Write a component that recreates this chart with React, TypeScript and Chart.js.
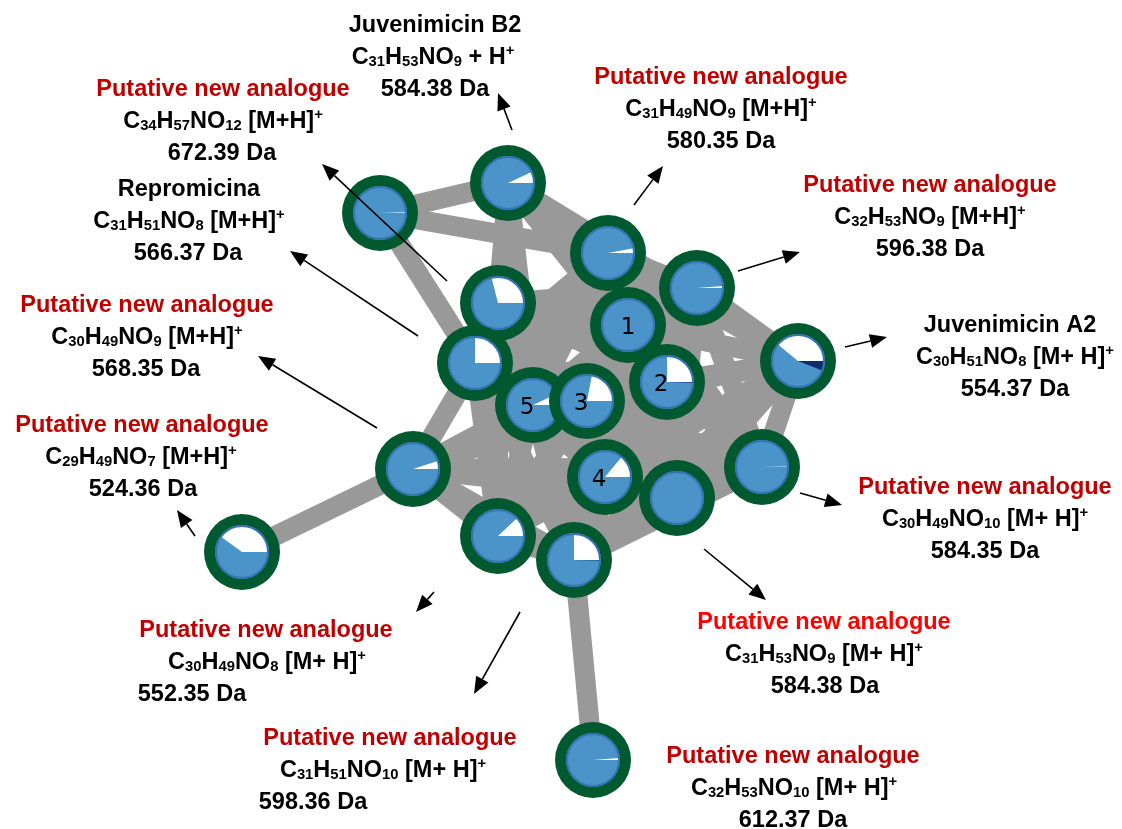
import { useEffect, useRef } from "react";
import { Chart, registerables } from "chart.js";

Chart.register(...registerables);

// Network layout: x / y of every node on a 1122 x 829 board (y grows downward)
const nodeX = [380, 508, 608, 697, 628, 498, 475, 667, 798, 533, 587, 605, 413, 677, 762, 498, 574, 242, 593];
const nodeY = [213, 183, 253, 288, 325, 303, 363, 382, 361, 405, 401, 477, 469, 498, 467, 536, 560, 552, 760];
// Pie share of each node (the rest of the pie is blue)
const nodeWhite = [0.004, 0.07, 0.03, 0.012, 0, 0.29, 0.25, 0.25, 0.39, 0.07, 0.22, 0.14, 0.05, 0, 0.003, 0.12, 0.25, 0.4, 0.012];
const nodeNavy = [0, 0, 0, 0, 0, 0, 0, 0.004, 0.06, 0, 0, 0, 0, 0, 0, 0, 0.003, 0, 0];
const nodeTag = ["", "", "", "", "1", "", "", "2", "", "5", "3", "4", "", "", "", "", "", "", ""];

// Edges (node index pairs)
const edgeFrom = [
  0, 0, 0,
  1, 1, 1, 1, 1, 1,
  2, 2, 2, 2, 2, 2, 2, 2, 2, 2,
  3, 3, 3, 3, 3, 3, 3, 3, 3, 3,
  4, 4, 4, 4, 4, 4, 4, 4, 4, 4, 4,
  5, 5, 5, 5, 5, 5, 5,
  6, 6, 6, 6, 6, 6, 6, 6, 6,
  7, 7, 7, 7, 7, 7, 7, 7, 7,
  8, 8, 8, 8, 8, 8,
  9, 9, 9, 9, 9, 9, 9,
  10, 10, 10, 10, 10, 10,
  11, 11, 11, 11, 11,
  12, 12, 12, 12, 12,
  13, 13,
  14,
  15,
  16,
];
const edgeTo = [
  1, 2, 6,
  2, 4, 5, 7, 8, 9,
  3, 4, 6, 7, 8, 9, 10, 11, 13, 14,
  4, 5, 6, 7, 8, 9, 10, 11, 13, 14,
  5, 6, 7, 8, 9, 10, 11, 13, 14, 15, 16,
  6, 7, 9, 10, 11, 13, 15,
  7, 9, 10, 11, 12, 13, 14, 15, 16,
  8, 9, 10, 11, 12, 13, 14, 15, 16,
  9, 10, 11, 13, 14, 16,
  10, 11, 12, 13, 14, 15, 16,
  11, 12, 13, 14, 15, 16,
  12, 13, 14, 15, 16,
  13, 14, 15, 16, 17,
  14, 16,
  16,
  16,
  18,
];

// Callout texts
const calloutTitle = [
  "Juvenimicin B2",
  "Putative new analogue",
  "Repromicina",
  "Putative new analogue",
  "Putative new analogue",
  "Putative new analogue",
  "Putative new analogue",
  "Putative new analogue",
  "Putative new analogue",
  "Putative new analogue",
  "Juvenimicin A2",
  "Putative new analogue",
  "Putative new analogue",
];
const calloutFormula = [
  "C_31H_53NO_9 + H^+",
  "C_34H_57NO_12 [M+H]^+",
  "C_31H_51NO_8 [M+H]^+",
  "C_30H_49NO_9 [M+H]^+",
  "C_29H_49NO_7 [M+H]^+",
  "C_30H_49NO_8 [M+ H]^+",
  "C_31H_51NO_10 [M+ H]^+",
  "C_32H_53NO_10 [M+ H]^+",
  "C_31H_53NO_9 [M+ H]^+",
  "C_30H_49NO_10 [M+ H]^+",
  "C_30H_51NO_8 [M+ H]^+",
  "C_32H_53NO_9 [M+H]^+",
  "C_31H_49NO_9 [M+H]^+",
];
const calloutMass = ["584.38", "672.39", "566.37", "568.35", "524.36", "552.35", "598.36", "612.37", "584.38", "584.35", "554.37", "596.38", "580.35"];
// 0 = known compound (black), 1 = putative (dark red), 2 = putative (bright red)
const calloutTone = [0, 1, 0, 1, 1, 1, 1, 1, 2, 1, 0, 1, 1];

// Callout placement: title centre, formula centre, mass centre, first line y
const calloutTitleX = [435, 223, 189, 147, 142, 266, 390, 793, 824, 985, 1010, 930, 721];
const calloutFormulaX = [433, 223, 189, 147, 141, 267, 383, 794, 824, 985, 1015, 930, 721];
const calloutMassX = [435, 222, 188, 146, 143, 192, 313, 793, 825, 985, 1015, 930, 721];
const calloutY = [24, 88, 188, 304, 424, 629, 737, 755, 621, 486, 324, 184, 76];

// Pointer arrows: tail -> head
const arrowFromX = [512, 447, 418, 377, 195, 434, 520, 704, 800, 845, 738, 634];
const arrowFromY = [130, 281, 336, 428, 536, 592, 612, 549, 493, 347, 271, 205];
const arrowToX = [498, 322, 290, 258, 177, 416, 474, 766, 842, 887, 800, 663];
const arrowToY = [93, 164, 251, 356, 510, 612, 694, 600, 505, 337, 252, 166];

const GREEN = "#00592f";
const BLUE = "#4a94c9";
const RIM = "#3673b2";
const NAVY = "#0d2e6b";
const EDGE = "#999999";
const TONES = ["#000000", "#c00000", "#ff0000"];
const FONT = '"Liberation Sans", Arial, sans-serif';
const FS = 23.5;
const LINE = 32;

function wedge(g: CanvasRenderingContext2D, c: number, r: number, a0: number, a1: number, color: string) {
  g.fillStyle = color;
  g.beginPath();
  g.moveTo(c, c);
  g.arc(c, c, r, a0, a1);
  g.closePath();
  g.fill();
}

function nodeSprite(white: number, navy: number, tag: string): HTMLCanvasElement {
  const size = 80;
  const c = size / 2;
  const TAU = Math.PI * 2;
  const cv = document.createElement("canvas");
  cv.width = size;
  cv.height = size;
  const g = cv.getContext("2d")!;
  g.fillStyle = GREEN;
  g.beginPath();
  g.arc(c, c, 38, 0, TAU);
  g.fill();
  g.fillStyle = BLUE;
  g.beginPath();
  g.arc(c, c, 27, 0, TAU);
  g.fill();
  if (navy > 0) wedge(g, c, 26, 0, navy * TAU, NAVY);
  if (white > 0) wedge(g, c, 26, (1 - white) * TAU, TAU, "#ffffff");
  g.strokeStyle = RIM;
  g.lineWidth = 2;
  g.beginPath();
  g.arc(c, c, 26, 0, TAU);
  g.stroke();
  if (tag) {
    g.fillStyle = "#000000";
    g.font = '23px "DejaVu Sans", sans-serif';
    g.textAlign = "center";
    g.textBaseline = "middle";
    g.fillText(tag, tag === "1" ? c : c - 6, c + 3);
  }
  return cv;
}

type Seg = { t: string; k: number };

// "_" starts a subscript run of digits, "^" makes the next character a superscript
function parseFormula(src: string): Seg[] {
  const out: Seg[] = [];
  let buf = "";
  let i = 0;
  while (i < src.length) {
    const ch = src[i];
    if (ch === "_") {
      if (buf) out.push({ t: buf, k: 0 });
      buf = "";
      let d = "";
      i++;
      while (i < src.length && /[0-9]/.test(src[i])) d += src[i++];
      out.push({ t: d, k: 1 });
    } else if (ch === "^") {
      if (buf) out.push({ t: buf, k: 0 });
      buf = "";
      out.push({ t: src[i + 1], k: 2 });
      i += 2;
    } else {
      buf += ch;
      i++;
    }
  }
  if (buf) out.push({ t: buf, k: 0 });
  return out;
}

function segFont(k: number) {
  const s = k === 0 ? FS : FS * 0.63;
  return `bold ${s}px ${FONT}`;
}

function drawFormula(ctx: CanvasRenderingContext2D, src: string, cx: number, cy: number) {
  const segs = parseFormula(src);
  let total = 0;
  const widths = segs.map((s) => {
    ctx.font = segFont(s.k);
    const w = ctx.measureText(s.t).width;
    total += w;
    return w;
  });
  let x = cx - total / 2;
  const base = cy + FS * 0.36;
  ctx.textAlign = "left";
  ctx.textBaseline = "alphabetic";
  segs.forEach((s, i) => {
    ctx.font = segFont(s.k);
    const dy = s.k === 1 ? 1.5 : s.k === 2 ? -FS * 0.4 : 0;
    ctx.fillText(s.t, x, base + dy);
    x += widths[i];
  });
}

const calloutPlugin = {
  id: "callouts",
  afterDatasetsDraw(chart: Chart) {
    const ctx = chart.ctx;
    const xs = chart.scales.x;
    const ys = chart.scales.y;
    ctx.save();
    // arrows
    arrowFromX.forEach((_, i) => {
      const x0 = xs.getPixelForValue(arrowFromX[i]);
      const y0 = ys.getPixelForValue(arrowFromY[i]);
      const x1 = xs.getPixelForValue(arrowToX[i]);
      const y1 = ys.getPixelForValue(arrowToY[i]);
      const a = Math.atan2(y1 - y0, x1 - x0);
      const hl = 17;
      const hw = 7;
      const bx = x1 - hl * Math.cos(a);
      const by = y1 - hl * Math.sin(a);
      ctx.strokeStyle = "#000000";
      ctx.lineWidth = 1.6;
      ctx.beginPath();
      ctx.moveTo(x0, y0);
      ctx.lineTo(bx, by);
      ctx.stroke();
      ctx.fillStyle = "#000000";
      ctx.beginPath();
      ctx.moveTo(x1, y1);
      ctx.lineTo(bx + hw * Math.sin(a), by - hw * Math.cos(a));
      ctx.lineTo(bx - hw * Math.sin(a), by + hw * Math.cos(a));
      ctx.closePath();
      ctx.fill();
    });
    // text blocks
    calloutTitle.forEach((title, i) => {
      const y0 = ys.getPixelForValue(calloutY[i]);
      ctx.textAlign = "center";
      ctx.textBaseline = "alphabetic";
      ctx.font = `bold ${FS}px ${FONT}`;
      ctx.fillStyle = TONES[calloutTone[i]];
      ctx.fillText(title, xs.getPixelForValue(calloutTitleX[i]), y0 + FS * 0.36);
      ctx.fillStyle = "#000000";
      drawFormula(ctx, calloutFormula[i], xs.getPixelForValue(calloutFormulaX[i]), y0 + LINE);
      ctx.textAlign = "center";
      ctx.font = `bold ${FS}px ${FONT}`;
      ctx.fillText(`${calloutMass[i]} Da`, xs.getPixelForValue(calloutMassX[i]), y0 + 2 * LINE + FS * 0.36);
    });
    ctx.restore();
  },
};

export default function App() {
  const ref = useRef<HTMLCanvasElement | null>(null);

  useEffect(() => {
    if (!ref.current) return;
    const sprites = nodeX.map((_, i) => nodeSprite(nodeWhite[i], nodeNavy[i], nodeTag[i]));
    const edgeSets = edgeFrom.map((a, k) => {
      const b = edgeTo[k];
      return {
        type: "scatter" as const,
        data: [
          { x: nodeX[a], y: nodeY[a] },
          { x: nodeX[b], y: nodeY[b] },
        ],
        showLine: true,
        borderColor: EDGE,
        backgroundColor: EDGE,
        borderWidth: 20,
        borderCapStyle: "butt" as const,
        pointRadius: 0,
        pointHoverRadius: 0,
        order: 2,
      };
    });
    const nodeSet = {
      type: "scatter" as const,
      data: nodeX.map((x, i) => ({ x, y: nodeY[i] })),
      pointStyle: (c: any) => sprites[c.dataIndex ?? 0],
      pointRadius: 38,
      pointHoverRadius: 38,
      borderWidth: 0,
      showLine: false,
      order: 1,
    };
    const chart = new Chart(ref.current, {
      type: "scatter",
      data: { datasets: [nodeSet as any, ...edgeSets] },
      options: {
        animation: false,
        responsive: true,
        maintainAspectRatio: false,
        layout: { padding: 0, autoPadding: false },
        events: [],
        plugins: { legend: { display: false }, tooltip: { enabled: false } },
        scales: {
          x: { type: "linear", min: 0, max: 1122, display: false },
          y: { type: "linear", min: 0, max: 829, reverse: true, display: false },
        },
      },
      plugins: [calloutPlugin],
    });
    return () => chart.destroy();
  }, []);

  return (
    <div style={{ position: "absolute", left: 0, top: 0, width: 1122, height: 829, background: "#ffffff" }}>
      <canvas ref={ref} />
    </div>
  );
}
